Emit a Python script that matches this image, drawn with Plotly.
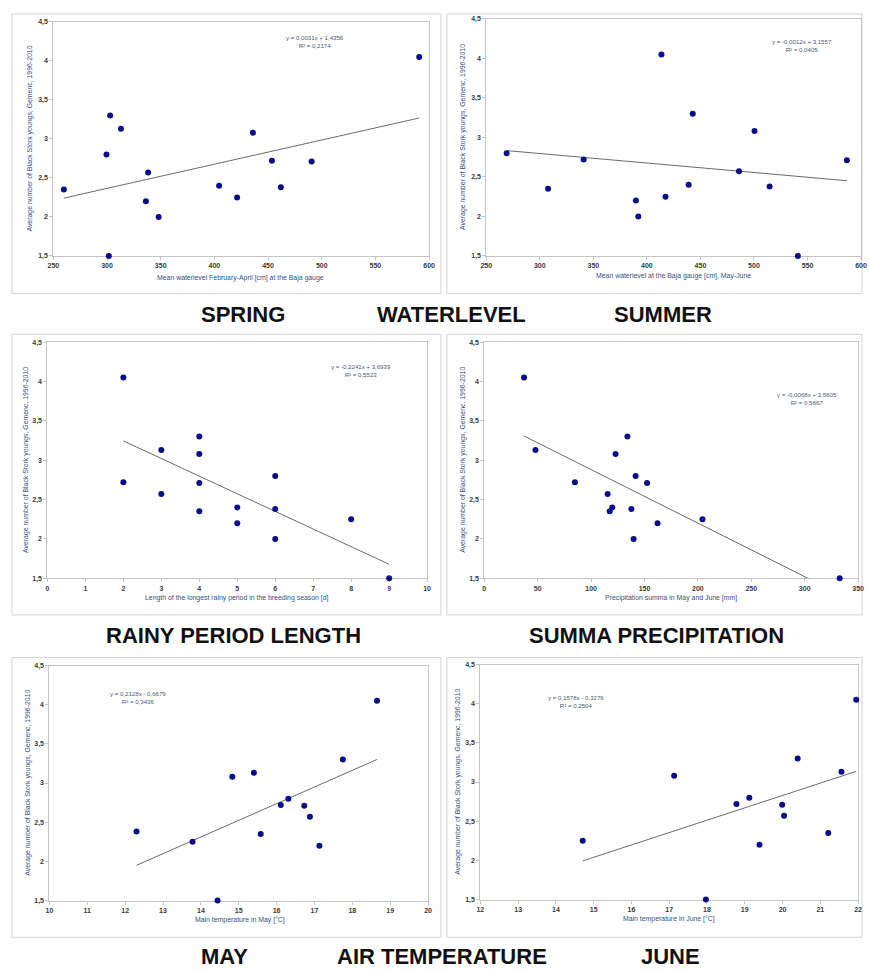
import plotly.graph_objects as go

W, H = 870, 972

# ---------------- data ----------------
y_ticks = [1.5, 2, 2.5, 3, 3.5, 4, 4.5]
y_ticktext = ["1,5", "2", "2,5", "3", "3,5", "4", "4,5"]
y_title = "Average number of Black Stork youngs, Gemenc, 1996-2010"

spring_x = [259.8, 299.5, 302.9, 301.7, 313.0, 336.2, 338.3, 348.1, 404.4, 421.2, 435.9, 453.6, 461.9, 490.6, 590.8]
spring_y = [2.35, 2.80, 3.30, 1.50, 3.13, 2.20, 2.57, 2.00, 2.40, 2.25, 3.08, 2.72, 2.38, 2.71, 4.05]

summer_x = [269.0, 307.7, 340.9, 389.7, 392.0, 413.6, 417.4, 439.0, 442.8, 486.0, 500.5, 514.6, 541.0, 586.8]
summer_y = [2.80, 2.35, 2.72, 2.20, 2.00, 4.05, 2.25, 2.40, 3.30, 2.57, 3.08, 2.38, 1.50, 2.71]

rainy_x = [2, 2, 3, 3, 4, 4, 4, 4, 5, 5, 6, 6, 6, 8, 9]
rainy_y = [4.05, 2.72, 3.13, 2.57, 3.30, 3.08, 2.71, 2.35, 2.40, 2.20, 2.80, 2.38, 2.00, 2.25, 1.50]

precip_x = [37.2, 47.9, 84.8, 115.5, 117.4, 119.8, 122.9, 134.0, 137.7, 139.8, 141.7, 152.4, 162.2, 204.3, 332.8]
precip_y = [4.05, 3.13, 2.72, 2.57, 2.35, 2.40, 3.08, 3.30, 2.38, 2.00, 2.80, 2.71, 2.20, 2.25, 1.50]

may_x = [12.30, 13.78, 14.44, 14.83, 15.40, 15.58, 16.11, 16.31, 16.73, 16.88, 17.13, 17.75, 18.65]
may_y = [2.38, 2.25, 1.50, 3.08, 3.13, 2.35, 2.72, 2.80, 2.71, 2.57, 2.20, 3.30, 4.05]

june_x = [14.71, 17.13, 17.97, 18.78, 19.12, 19.39, 19.99, 20.04, 20.40, 21.21, 21.56, 21.95]
june_y = [2.25, 3.08, 1.50, 2.72, 2.80, 2.20, 2.71, 2.57, 3.30, 2.35, 3.13, 4.05]

slopes = [0.0031, -0.0012, -0.2241, -0.0068, 0.2128, 0.1578]
intercepts = [1.4356, 3.1557, 3.6939, 3.5605, -0.6679, -0.3276]
equations = ["y = 0,0031x + 1,4356", "y = -0,0012x + 3,1557", "y = -0,2241x + 3,6939",
             "y = -0,0068x + 3,5605", "y = 0,2128x - 0,6679", "y = 0,1578x - 0,3276"]
r2_texts = ["R² = 0,2174", "R² = 0,0405", "R² = 0,5523", "R² = 0,5867", "R² = 0,3436", "R² = 0,2504"]

x_titles = ["Mean waterlevel February-April [cm] at the Baja gauge",
            "Mean waterlevel at the Baja gauge [cm], May-June",
            "Length of the longest rainy period in the breeding season [d]",
            "Precipitation summa in May and June [mm]",
            "Main temperature in May [°C]",
            "Main temperature in June [°C]"]

x_ticks = [[250, 300, 350, 400, 450, 500, 550, 600],
           [250, 300, 350, 400, 450, 500, 550, 600],
           [0, 1, 2, 3, 4, 5, 6, 7, 8, 9, 10],
           [0, 50, 100, 150, 200, 250, 300, 350],
           [10, 11, 12, 13, 14, 15, 16, 17, 18, 19, 20],
           [12, 13, 14, 15, 16, 17, 18, 19, 20, 21, 22]]

captions = ["SPRING", "WATERLEVEL", "SUMMER", "RAINY PERIOD LENGTH", "SUMMA PRECIPITATION",
            "MAY", "AIR TEMPERATURE", "JUNE"]

series = [(spring_x, spring_y), (summer_x, summer_y), (rainy_x, rainy_y),
          (precip_x, precip_y), (may_x, may_y), (june_x, june_y)]

# ---------------- layout geometry (pixels) ----------------
plot_boxes = [  # x0, x1, ytop, ybottom
    (48, 429, 18, 254),
    (487, 867, 15, 254),
    (42, 427, 341, 579),
    (485, 864, 341, 579),
    (44, 428, 667, 904),
    (481, 864, 666, 903),
]
panel_boxes = [(6, 441, 10, 292), (447, 868, 10, 292),
               (6, 441, 333, 616), (447, 868, 333, 616),
               (6, 441, 659, 941), (447, 868, 659, 941)]
ytitle_x = [24, 464, 20, 464, 22, 458]
xtitle_pos = [(238, 276), (677, 274), (234, 599), (674, 599), (237, 924), (672, 923)]
eq_pos = [(313, 38), (807, 42), (360, 370), (812, 398), (134, 699), (578, 703)]
caption_pos = [(240, 313), (452, 313), (666, 313), (231, 637), (660, 637),
               (222, 960), (442, 960), (674, 960)]


def px(x):
    return x / W


def py(y):
    return 1 - y / H


def ann(x, y, text, font, **kw):
    d = dict(x=px(x), y=py(y), xref="paper", yref="paper", text=text, showarrow=False,
             xanchor="center", yanchor="middle", font=font)
    d.update(kw)
    return d


fig = go.Figure()
layout = dict(width=W, height=H, margin=dict(l=0, r=0, t=0, b=0),
              paper_bgcolor="white", plot_bgcolor="white", showlegend=False,
              separators=",.")
annotations = []
shapes = []

tick_font = dict(family="Liberation Sans, Arial", size=7, color="#3a3a3a")
title_color = "#34507f"
axis_col = "#c4c4c4"
small_font = dict(family="Liberation Sans, Arial", size=6.9, color=title_color)
eq_font = dict(family="Liberation Sans, Arial", size=6.1, color="#4a5a70")
cap_font = dict(family="Liberation Sans, Arial", size=22, color="#111111")

for i, ((xs, ys), (x0, x1, yt, yb)) in enumerate(zip(series, plot_boxes)):
    n = i + 1
    xa = "x" if n == 1 else f"x{n}"
    ya = "y" if n == 1 else f"y{n}"
    xk = "xaxis" if n == 1 else f"xaxis{n}"
    yk = "yaxis" if n == 1 else f"yaxis{n}"
    xt = x_ticks[i]
    layout[xk] = dict(domain=[px(x0), px(x1)], anchor=ya, range=[xt[0], xt[-1]],
                      tickvals=xt, ticktext=[f"<b>{v}</b>" for v in xt],
                      showline=True, mirror=True, linecolor=axis_col, linewidth=1,
                      ticks="outside", ticklen=3, tickcolor=axis_col, layer="below traces",
                      showgrid=False, zeroline=False, tickfont=tick_font)
    layout[yk] = dict(domain=[py(yb), py(yt)], anchor=xa, range=[1.5, 4.5],
                      tickvals=y_ticks, ticktext=[f"<b>{t}</b>" for t in y_ticktext],
                      showline=True, mirror=True, linecolor=axis_col, linewidth=1,
                      ticks="outside", ticklen=3, tickcolor=axis_col, layer="below traces",
                      showgrid=False, zeroline=False, tickfont=tick_font)

    # trend line across data range
    lx = [min(xs), max(xs)]
    ly = [slopes[i] * v + intercepts[i] for v in lx]
    fig.add_trace(go.Scatter(x=lx, y=ly, mode="lines", xaxis=xa, yaxis=ya,
                             line=dict(color="#6a6a6a", width=1), hoverinfo="skip"))
    fig.add_trace(go.Scatter(x=xs, y=ys, mode="markers", xaxis=xa, yaxis=ya,
                             cliponaxis=False,
                             marker=dict(color="#0b0b8c", size=6, line=dict(width=0))))

    annotations.append(ann(ytitle_x[i], (yt + yb) / 2, y_title, small_font, textangle=-90))
    tx, ty = xtitle_pos[i]
    annotations.append(ann(tx, ty, x_titles[i], small_font))
    ex, ey = eq_pos[i]
    annotations.append(ann(ex, ey, equations[i] + "<br>" + r2_texts[i], eq_font, align="center"))

for (x0, x1, y0, y1) in panel_boxes:
    shapes.append(dict(type="rect", xref="paper", yref="paper",
                       x0=px(x0), x1=px(x1), y0=py(y1), y1=py(y0),
                       line=dict(color="#d4d4d4", width=1), layer="below"))

for text, (cx, cy) in zip(captions, caption_pos):
    annotations.append(ann(cx, cy, f"<b>{text}</b>", cap_font))

layout["annotations"] = annotations
layout["shapes"] = shapes
fig.update_layout(**layout)
fig.write_html("out.html")
